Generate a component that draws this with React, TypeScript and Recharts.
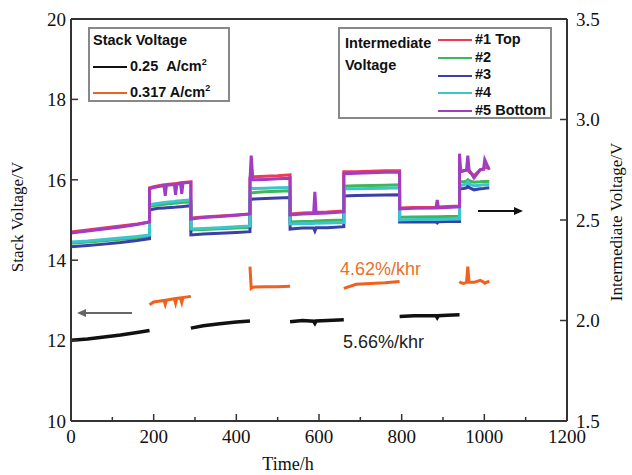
import { ComposedChart, Line, XAxis, YAxis, ReferenceLine, Label } from "recharts";

// time grid, one row per reading; duplicated times are the load steps
const time = [
  0, 40, 80, 120, 160, 190,
  190, 200, 212, 225, 228, 231, 250, 253, 256, 265, 268, 271, 290,
  290, 320, 360, 400, 433,
  433, 436, 440, 470, 500, 530,
  530, 560, 587, 590, 593, 620, 660,
  660, 690, 725, 760, 795,
  795, 830, 883, 886, 889, 910, 940,
  940, 943, 950, 957, 960, 963, 975, 990, 998, 1001, 1012,
];

// stack voltage, 0.25 A/cm2
const stack025 = [
  12.01, 12.04, 12.09, 12.14, 12.2, 12.25,
  null, null, null, null, null, null, null, null, null, null, null, null, null,
  12.31, 12.37, 12.42, 12.46, 12.49,
  null, null, null, null, null, null,
  12.47, 12.5, 12.48, 12.43, 12.49, 12.5, 12.52,
  null, null, null, null, null,
  12.6, 12.62, 12.62, 12.57, 12.62, 12.63, 12.64,
  null, null, null, null, null, null, null, null, null, null, null,
];

// stack voltage, 0.317 A/cm2
const stack0317 = [
  null, null, null, null, null, null,
  12.89, 12.96, 12.98, 13.0, 12.9, 13.01, 13.04, 12.93, 13.05, 13.06, 12.95, 13.07, 13.1,
  null, null, null, null, null,
  13.84, 13.3, 13.33, 13.34, 13.34, 13.35,
  null, null, null, null, null, null, null,
  13.3, 13.4, 13.42, 13.44, 13.47,
  null, null, null, null, null, null, null,
  13.47, 13.44, 13.42, 13.45, 13.84, 13.45, 13.45, 13.5, 13.46, 13.43, 13.48,
];

// intermediate voltages, cells #1..#5
const cell1 = [
  2.44, 2.45, 2.46, 2.47, 2.48, 2.49,
  2.66, 2.665, 2.67, 2.675, 2.675, 2.677, 2.68, 2.68, 2.682, 2.685, 2.685, 2.687, 2.69,
  2.51, 2.515, 2.52, 2.525, 2.53,
  2.71, 2.72, 2.715, 2.718, 2.72, 2.725,
  2.53, 2.535, 2.537, 2.54, 2.538, 2.54, 2.545,
  2.74, 2.74, 2.742, 2.745, 2.745,
  2.56, 2.562, 2.564, 2.565, 2.565, 2.567, 2.57,
  2.74, 2.742, 2.745, 2.747, 2.75, 2.74, 2.72, 2.75, 2.755, 2.76, 2.76,
];
const cell2 = [
  2.384, 2.39, 2.397, 2.404, 2.41, 2.417,
  2.568, 2.572, 2.575, 2.578, 2.578, 2.58, 2.583, 2.584, 2.585, 2.587, 2.587, 2.588, 2.59,
  2.45, 2.453, 2.456, 2.46, 2.464,
  2.632, 2.634, 2.636, 2.64, 2.643, 2.645,
  2.49, 2.493, 2.494, 2.495, 2.495, 2.497, 2.5,
  2.668, 2.67, 2.672, 2.673, 2.675,
  2.514, 2.515, 2.516, 2.516, 2.516, 2.517, 2.518,
  2.69, 2.69, 2.69, 2.695, 2.7, 2.695, 2.688, 2.69, 2.692, 2.692, 2.692,
];
const cell3 = [
  2.367, 2.373, 2.38, 2.388, 2.398, 2.407,
  2.55, 2.555, 2.558, 2.56, 2.56, 2.561, 2.563, 2.564, 2.565, 2.566, 2.566, 2.567, 2.571,
  2.426, 2.43, 2.434, 2.438, 2.442,
  2.6, 2.602, 2.604, 2.607, 2.61, 2.612,
  2.455, 2.46, 2.46, 2.445, 2.461, 2.462, 2.467,
  2.62, 2.622, 2.623, 2.624, 2.625,
  2.49, 2.49, 2.491, 2.485, 2.491, 2.492, 2.493,
  2.655, 2.656, 2.657, 2.66, 2.67, 2.662, 2.65, 2.655, 2.657, 2.658, 2.66,
];
const cell4 = [
  2.39, 2.395, 2.403, 2.41, 2.418, 2.425,
  2.575, 2.58, 2.583, 2.587, 2.587, 2.589, 2.592, 2.593, 2.594, 2.596, 2.596, 2.597, 2.6,
  2.455, 2.458, 2.462, 2.466, 2.47,
  2.66, 2.66, 2.657, 2.658, 2.66, 2.662,
  2.48, 2.482, 2.483, 2.484, 2.484, 2.485, 2.487,
  2.655, 2.656, 2.657, 2.658, 2.66,
  2.5, 2.502, 2.503, 2.503, 2.503, 2.504, 2.505,
  2.67, 2.672, 2.675, 2.68, 2.69, 2.68, 2.67, 2.673, 2.675, 2.675, 2.675,
];
const cell5 = [
  2.435, 2.445, 2.455, 2.465, 2.478, 2.49,
  2.655, 2.662, 2.667, 2.672, 2.62, 2.673, 2.677, 2.625, 2.678, 2.682, 2.63, 2.684, 2.688,
  2.505, 2.512, 2.518, 2.524, 2.53,
  2.695, 2.82, 2.7, 2.702, 2.705, 2.708,
  2.525, 2.53, 2.532, 2.64, 2.533, 2.535, 2.54,
  2.73, 2.732, 2.735, 2.737, 2.738,
  2.555, 2.558, 2.56, 2.6, 2.56, 2.562, 2.566,
  2.83, 2.74, 2.745, 2.75, 2.82, 2.75, 2.71, 2.75, 2.752, 2.8, 2.75,
];

const timeTicks = [0, 200, 400, 600, 800, 1000, 1200];
const minorTimeTicks = [100, 300, 500, 700, 900, 1100];
const stackTicks = [10, 12, 14, 16, 18, 20];
const interTicks = [1.5, 2.0, 2.5, 3.0, 3.5];

const rows = time.map((t, i) => ({
  t,
  s025: stack025[i],
  s0317: stack0317[i],
  c1: cell1[i],
  c2: cell2[i],
  c3: cell3[i],
  c4: cell4[i],
  c5: cell5[i],
}));

const cellSeries = [
  { key: "c1", name: "#1 Top", color: "#f03a55" },
  { key: "c2", name: "#2", color: "#3cb85a" },
  { key: "c3", name: "#3", color: "#3b3fa8" },
  { key: "c4", name: "#4", color: "#3cc6cc" },
  { key: "c5", name: "#5 Bottom", color: "#a23cc0" },
];

const serif = "'Liberation Serif', 'Times New Roman', serif";
const sans = "'Liberation Sans', Arial, sans-serif";
const axisColor = "#333";
const tickStyle = { fontSize: 19, fill: "#111" };

const css = `
.recharts-cartesian-axis-tick text,
.recharts-cartesian-axis-tick-value {
  font-family: 'Liberation Serif', 'Times New Roman', serif !important;
  font-size: 19px !important;
}
`;

const legendLine = (color: string) => (
  <span style={{ display: "inline-block", width: 34, height: 2, background: color, marginRight: 3, verticalAlign: "middle" }} />
);

export default function App() {
  return (
    <div style={{ position: "absolute", left: 0, top: 0, width: 632, height: 475, background: "#fff" }}>
      <style>{css}</style>
      <ComposedChart width={632} height={475} data={rows} margin={{ top: 19, right: 0, left: 0, bottom: 0 }}>
        <XAxis
          dataKey="t"
          type="number"
          domain={[0, 1200]}
          ticks={timeTicks}
          height={54}
          tickSize={-7}
          tickMargin={16}
          tick={tickStyle}
          stroke={axisColor}
          axisLine={{ stroke: axisColor, strokeWidth: 2 }}
          tickLine={{ stroke: axisColor, strokeWidth: 1.5 }}
        >
          <Label
            content={() => (
              <text x={288} y={470} textAnchor="middle" fontFamily={serif} fontSize={18} fill="#111">
                Time/h
              </text>
            )}
          />
        </XAxis>
        <YAxis
          yAxisId="left"
          domain={[10, 20]}
          ticks={stackTicks}
          width={71}
          tickSize={-7}
          tickMargin={12}
          tick={tickStyle}
          axisLine={{ stroke: axisColor, strokeWidth: 2 }}
          tickLine={{ stroke: axisColor, strokeWidth: 1.5 }}
        >
          <Label
            content={() => (
              <text x={23} y={217} transform="rotate(-90 23 217)" textAnchor="middle" fontFamily={serif} fontSize={17} fill="#111">
                Stack Voltage/V
              </text>
            )}
          />
        </YAxis>
        <YAxis
          yAxisId="right"
          orientation="right"
          domain={[1.5, 3.5]}
          ticks={interTicks}
          tickFormatter={(v: number) => v.toFixed(1)}
          width={65}
          tickSize={-7}
          tickMargin={16}
          tick={tickStyle}
          axisLine={{ stroke: axisColor, strokeWidth: 2 }}
          tickLine={{ stroke: axisColor, strokeWidth: 1.5 }}
        >
          <Label
            content={() => (
              <text x={622} y={222} transform="rotate(-90 622 222)" textAnchor="middle" fontFamily={serif} fontSize={17} fill="#111">
                Intermediate Voltage/V
              </text>
            )}
          />
        </YAxis>
        <ReferenceLine yAxisId="left" y={20} stroke={axisColor} strokeWidth={2} />
        {minorTimeTicks.map((m) => (
          <ReferenceLine
            key={m}
            yAxisId="left"
            segment={[{ x: m, y: 10 }, { x: m, y: 10.1 }]}
            stroke={axisColor}
            strokeWidth={1.5}
          />
        ))}
        {cellSeries.map((s) => (
          <Line
            key={s.key}
            yAxisId="right"
            dataKey={s.key}
            type="linear"
            stroke={s.color}
            strokeWidth={3}
            dot={false}
            isAnimationActive={false}
          />
        ))}
        <Line yAxisId="left" dataKey="s025" type="linear" stroke="#111" strokeWidth={3.5} dot={false} connectNulls={false} isAnimationActive={false} />
        <Line yAxisId="left" dataKey="s0317" type="linear" stroke="#f0601e" strokeWidth={3} dot={false} connectNulls={false} isAnimationActive={false} />
      </ComposedChart>

      {/* direction arrows */}
      <svg width={632} height={475} style={{ position: "absolute", left: 0, top: 0, pointerEvents: "none" }}>
        <line x1={132} y1={313} x2={84} y2={313} stroke="#666" strokeWidth={2} />
        <polygon points="77,313 86,309 86,317" fill="#666" />
        <line x1={478} y1={211} x2={515} y2={211} stroke="#111" strokeWidth={2} />
        <polygon points="523,211 514,207 514,215" fill="#111" />
      </svg>

      {/* stack voltage legend */}
      <div
        style={{
          position: "absolute", left: 88, top: 27, width: 142, height: 75,
          border: "2px solid #888", fontFamily: sans, fontWeight: "bold", fontSize: 14.5, color: "#111", lineHeight: "22px",
          padding: "0 0 0 3px", boxSizing: "border-box", background: "#fff",
        }}
      >
        <div>Stack Voltage</div>
        <div>{legendLine("#111")}0.25&nbsp;&nbsp;A/cm<sup style={{ fontSize: 9 }}>2</sup></div>
        <div>{legendLine("#f0601e")}0.317 A/cm<sup style={{ fontSize: 9 }}>2</sup></div>
      </div>

      {/* intermediate voltage legend */}
      <div
        style={{
          position: "absolute", left: 338, top: 27, width: 214, height: 92,
          border: "2px solid #888", fontFamily: sans, fontWeight: "bold", fontSize: 14.5, color: "#111", background: "#fff",
          boxSizing: "border-box",
        }}
      >
        <div style={{ position: "absolute", left: 5, top: 3, lineHeight: "22px" }}>
          Intermediate
          <br />
          Voltage
        </div>
        {cellSeries.map((s, i) => (
          <div key={s.key} style={{ position: "absolute", left: 98, top: 2 + i * 17.7, lineHeight: "17px", whiteSpace: "nowrap" }}>
            {legendLine(s.color)}
            {s.name}
          </div>
        ))}
      </div>

      {/* degradation rates */}
      <div style={{ position: "absolute", left: 340, top: 259, fontFamily: sans, fontSize: 18, color: "#e8702a" }}>4.62%/khr</div>
      <div style={{ position: "absolute", left: 343, top: 332, fontFamily: sans, fontSize: 18, color: "#222" }}>5.66%/khr</div>
    </div>
  );
}
